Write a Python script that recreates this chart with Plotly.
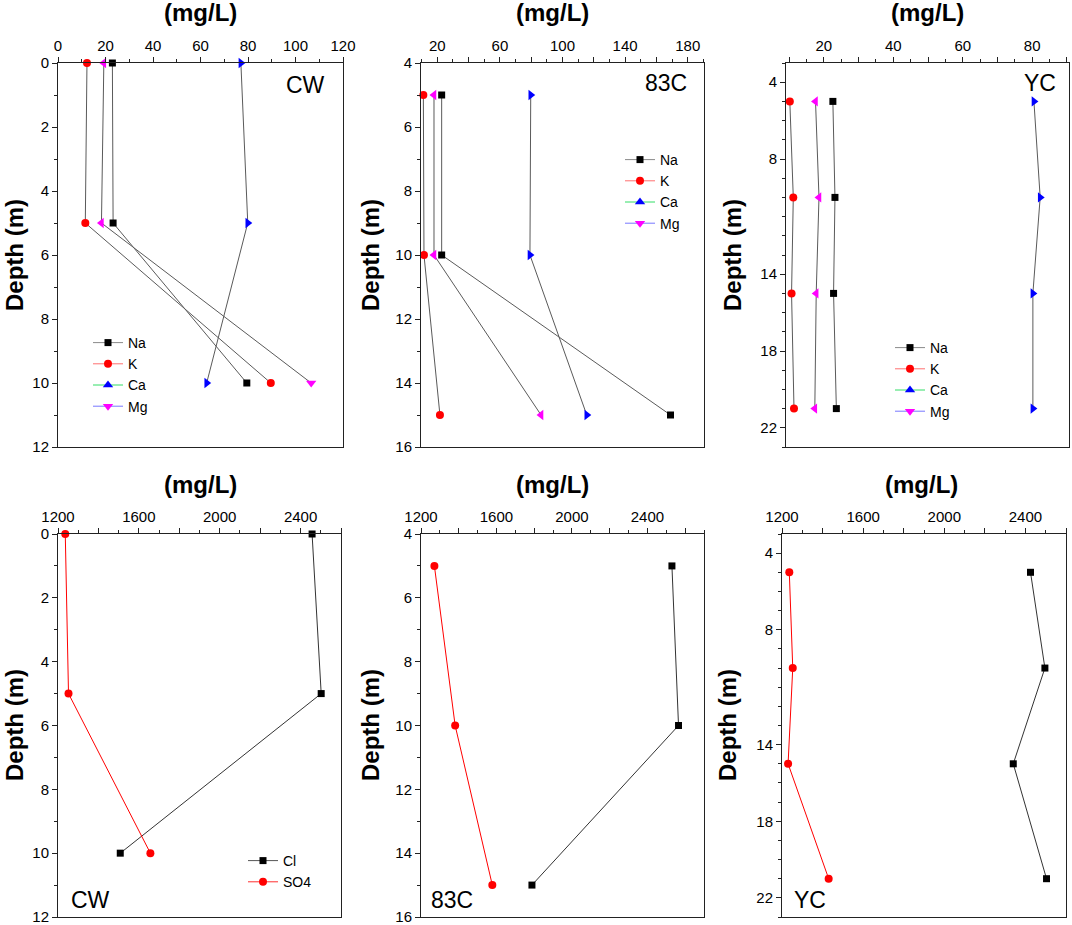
import plotly.graph_objects as go

# ---------------- data ----------------
cw_depth = [0, 5, 10]
cw_na = [22.9, 23.2, 79.5]
cw_k = [12.2, 11.5, 89.6]
cw_ca = [77.0, 79.9, 62.6]
cw_mg = [19.3, 18.3, 106.6]

c83_depth = [5, 10, 15]
c83_na = [22.8, 22.8, 169.0]
c83_k = [11.1, 11.5, 21.7]
c83_ca = [79.7, 79.2, 115.5]
c83_mg = [17.9, 17.9, 86.3]

yc_depth = [5, 10, 15, 21]
yc_na = [22.6, 23.2, 22.8, 23.6]
yc_k = [10.2, 11.2, 10.7, 11.4]
yc_ca = [80.5, 82.3, 80.2, 80.2]
yc_mg = [17.6, 18.6, 17.8, 17.4]

cw_cl = [2457, 2502, 1508]
cw_so4 = [1236, 1252, 1657]
c83_cl = [2530, 2565, 1788]
c83_so4 = [1271, 1381, 1578]
yc_cl = [2425, 2496, 2340, 2504]
yc_so4 = [1236, 1253, 1230, 1430]

cation_names = ["Na", "K", "Ca", "Mg"]
anion_names = ["Cl", "SO4"]
site_names = ["CW", "83C", "YC"]
unit_title = "(mg/L)"
depth_title = "Depth (m)"

# tick labels
cw_top_xticks = [0, 20, 40, 60, 80, 100, 120]
c83_top_xticks = [20, 40, 60, 80, 100, 120, 140, 160, 180]
c83_top_xlabels = ["20", "", "60", "", "100", "", "140", "", "180"]
yc_top_xticks = [10, 20, 30, 40, 50, 60, 70, 80, 90]
yc_top_xlabels = ["", "20", "", "40", "", "60", "", "80", ""]
bot_xticks = [1200, 1400, 1600, 1800, 2000, 2200, 2400, 2600]
bot_xlabels = ["1200", "", "1600", "", "2000", "", "2400", ""]
cw_yticks = [0, 2, 4, 6, 8, 10, 12]
c83_yticks = [4, 6, 8, 10, 12, 14, 16]
yc_yticks = [4, 8, 14, 18, 22]

FONT = "Arial, Liberation Sans, sans-serif"
W, H = 1072, 925
AX = "#222222"
LINE = "#5a5a5a"

def px_x(a, b):
    return [a / W, b / W]

def px_y(top, bottom):
    return [1 - bottom / H, 1 - top / H]

fig = go.Figure()

def mk(sym, color, size=8):
    return dict(symbol=sym, color=color, size=size, line=dict(width=0))

def cation_traces(depth, na, k, ca, mg, idx, mg_syms):
    xa, ya = ("x", "y") if idx == 1 else ("x%d" % idx, "y%d" % idx)
    for vals, sym, col, size in [(na, "square", "black", 7),
                                 (k, "circle", "red", 8),
                                 (ca, "triangle-right", "blue", 9),
                                 (mg, mg_syms, "magenta", 9)]:
        fig.add_trace(go.Scatter(x=vals, y=depth, mode="lines+markers",
                                 line=dict(color=LINE, width=1),
                                 marker=mk(sym, col, size), xaxis=xa, yaxis=ya,
                                 showlegend=False, cliponaxis=False))

cation_traces(cw_depth, cw_na, cw_k, cw_ca, cw_mg, 1,
              ["triangle-left", "triangle-left", "triangle-down"])
cation_traces(c83_depth, c83_na, c83_k, c83_ca, c83_mg, 2, "triangle-left")
cation_traces(yc_depth, yc_na, yc_k, yc_ca, yc_mg, 3, "triangle-left")

def anion_traces(depth, cl, so4, idx):
    xa, ya = "x%d" % idx, "y%d" % idx
    fig.add_trace(go.Scatter(x=cl, y=depth, mode="lines+markers",
                             line=dict(color="#333333", width=1),
                             marker=mk("square", "black", 7), xaxis=xa, yaxis=ya,
                             showlegend=False, cliponaxis=False))
    fig.add_trace(go.Scatter(x=so4, y=depth, mode="lines+markers",
                             line=dict(color="red", width=1),
                             marker=mk("circle", "red", 8), xaxis=xa, yaxis=ya,
                             showlegend=False, cliponaxis=False))

anion_traces(cw_depth, cw_cl, cw_so4, 4)
anion_traces(c83_depth, c83_cl, c83_so4, 5)
anion_traces(yc_depth, yc_cl, yc_so4, 6)

# legend-only entries
cat_leg_style = [("square", "black", "#8a8a8a", 7), ("circle", "red", "#ff7070", 8),
                 ("triangle-up", "blue", "#33dd66", 9), ("triangle-down", "magenta", "#7777ff", 9)]
for leg, xa, ya in [("legend", "x", "y"), ("legend2", "x2", "y2"), ("legend3", "x3", "y3")]:
    for name, (sym, mcol, lcol, size) in zip(cation_names, cat_leg_style):
        fig.add_trace(go.Scatter(x=[None], y=[None], mode="lines+markers", name=name,
                                 line=dict(color=lcol, width=1), marker=mk(sym, mcol, size),
                                 xaxis=xa, yaxis=ya, legend=leg))
an_leg_style = [("square", "black", "#555555", 7), ("circle", "red", "#ff3030", 8)]
for name, (sym, mcol, lcol, size) in zip(anion_names, an_leg_style):
    fig.add_trace(go.Scatter(x=[None], y=[None], mode="lines+markers", name=name,
                             line=dict(color=lcol, width=1), marker=mk(sym, mcol, size),
                             xaxis="x4", yaxis="y4", legend="legend4"))

def xax(dom, rng, tv, tt, mdt, anchor):
    return dict(domain=dom, range=rng, side="top", anchor=anchor,
                tickmode="array", tickvals=tv, ticktext=tt,
                ticks="outside", ticklen=5, tickwidth=1, tickcolor=AX,
                showline=True, linecolor=AX, linewidth=1, mirror=True,
                showgrid=False, zeroline=False, automargin=False,
                ticklabeloverflow="allow",
                tickfont=dict(size=15, color="black", family=FONT),
                minor=dict(ticks="outside", ticklen=3, tickwidth=1, tickcolor=AX,
                           dtick=mdt, tick0=0, showgrid=False))

def yax(dom, rng, tv, anchor):
    return dict(domain=dom, range=rng, anchor=anchor,
                tickmode="array", tickvals=tv, ticktext=[str(v) for v in tv],
                ticks="outside", ticklen=5, tickwidth=1, tickcolor=AX,
                showline=True, linecolor=AX, linewidth=1, mirror=True,
                showgrid=False, zeroline=False, automargin=False,
                ticklabeloverflow="allow",
                tickfont=dict(size=15, color="black", family=FONT),
                minor=dict(ticks="outside", ticklen=3, tickwidth=1, tickcolor=AX,
                           dtick=1, tick0=0, showgrid=False))

top_y = px_y(63, 447)
bot_y = px_y(534, 917)
fig.update_layout(
    xaxis=xax(px_x(58, 343), [0, 120], cw_top_xticks, [str(v) for v in cw_top_xticks], 10, "y"),
    yaxis=yax(top_y, [12, 0], cw_yticks, "x"),
    xaxis2=xax(px_x(421, 704), [9.6, 190.4], c83_top_xticks, c83_top_xlabels, 10, "y2"),
    yaxis2=yax(top_y, [16, 4], c83_yticks, "x2"),
    xaxis3=xax(px_x(786, 1069), [9.1, 90.6], yc_top_xticks, yc_top_xlabels, 5, "y3"),
    yaxis3=yax(top_y, [23, 3], yc_yticks, "x3"),
    xaxis4=xax(px_x(58, 341), [1200, 2600], bot_xticks, bot_xlabels, 100, "y4"),
    yaxis4=yax(bot_y, [12, 0], cw_yticks, "x4"),
    xaxis5=xax(px_x(421, 704), [1200, 2700], bot_xticks, bot_xlabels, 100, "y5"),
    yaxis5=yax(bot_y, [16, 4], c83_yticks, "x5"),
    xaxis6=xax(px_x(782, 1066), [1200, 2600], bot_xticks, bot_xlabels, 100, "y6"),
    yaxis6=yax(bot_y, [23, 3], yc_yticks, "x6"),
)

def legend_at(left, top):
    return dict(x=left / W, y=1 - top / H, xanchor="left", yanchor="top",
                bgcolor="rgba(0,0,0,0)", borderwidth=0, tracegroupgap=0,
                font=dict(size=14, color="black", family=FONT), itemwidth=30)

fig.update_layout(
    width=W, height=H, margin=dict(l=0, r=0, t=0, b=0, pad=0, autoexpand=False),
    paper_bgcolor="white", plot_bgcolor="white",
    font=dict(family=FONT, color="black"),
    legend=legend_at(88, 327),
    legend2=legend_at(620, 144),
    legend3=legend_at(890, 332),
    legend4=legend_at(243, 845),
)

ann = []
# unit titles
for cx, cy in [(200, 13), (552, 13), (927, 13), (200, 484), (552, 484), (921, 484)]:
    ann.append(dict(text=unit_title, x=cx / W, y=1 - cy / H, xref="paper", yref="paper",
                    showarrow=False, xanchor="center", yanchor="middle",
                    font=dict(size=24, family=FONT, color="black", weight="bold")))
# depth titles
for cx, cy in [(14, 255), (370, 255), (732, 255), (14, 725), (370, 725), (727, 725)]:
    ann.append(dict(text=depth_title, x=cx / W, y=1 - cy / H, xref="paper", yref="paper",
                    showarrow=False, xanchor="center", yanchor="middle", textangle=-90,
                    font=dict(size=24, family=FONT, color="black", weight="bold")))
# site labels
site_pos = [(305, 85), (666, 83), (1040, 83), (90, 900), (452, 900), (810, 900)]
for i, (cx, cy) in enumerate(site_pos):
    ann.append(dict(text=site_names[i % 3], x=cx / W, y=1 - cy / H, xref="paper", yref="paper",
                    showarrow=False, xanchor="center", yanchor="middle",
                    font=dict(size=23, family=FONT, color="black")))
fig.update_layout(annotations=ann)

fig.write_html("out.html", config={"displayModeBar": False},
               post_script="document.body.style.margin='0';document.body.style.overflow='hidden';")
